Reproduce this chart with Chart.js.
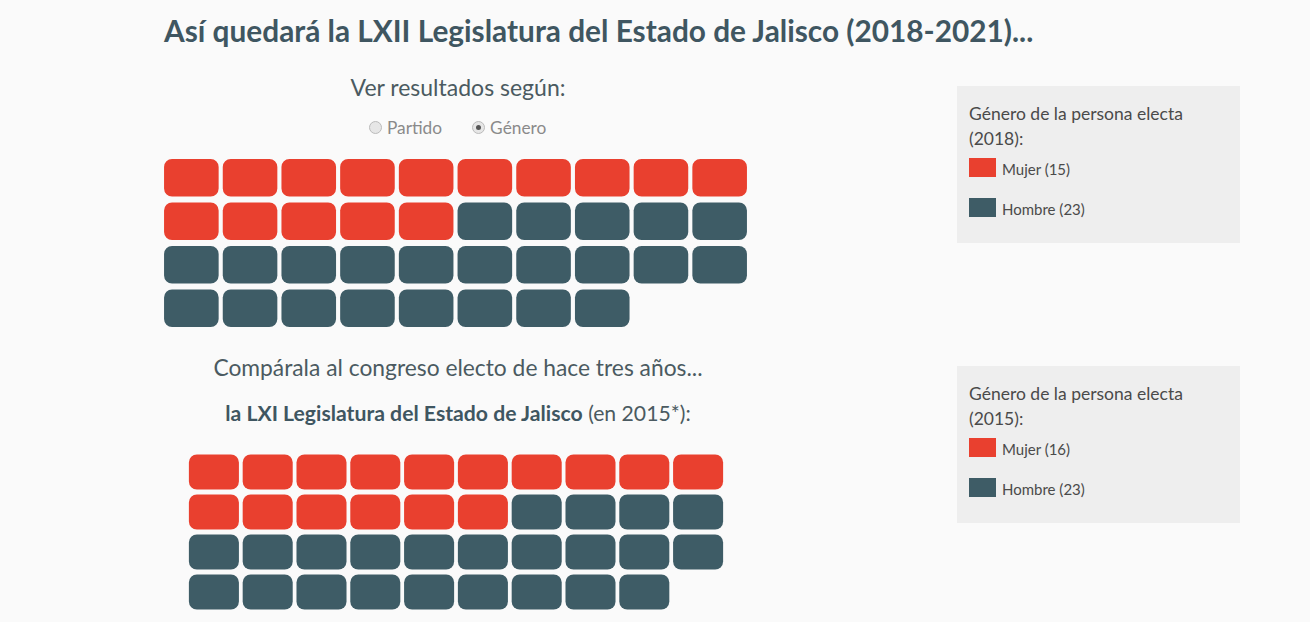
<!DOCTYPE html>
<html lang="es">
<head>
<meta charset="utf-8">
<script src="https://cdn.jsdelivr.net/npm/chart.js@4"></script>
<style>
  html, body { margin: 0; padding: 0; }
  body { width: 1310px; height: 622px; background: #fafafa; font-family: Lato, "Open Sans", sans-serif; position: relative; overflow: hidden; color: #4b5a61; }
  .abs { position: absolute; white-space: nowrap; }
  #title { left: 164px; top: 13px; font-size: 29.8px; font-weight: bold; color: #3f5661; letter-spacing: 0px; }
  #sub1 { left: 0; width: 916px; text-align: center; top: 73px; font-size: 23px; font-weight: normal; color: #4b5a61; }
  #radios { left: 369px; top: 117px; font-size: 17.3px; color: #8a8a8a; }
  .radio { display: inline-block; width: 11px; height: 11px; border: 1px solid #bbb; border-radius: 50%; background: #e6e6e6; vertical-align: 0px; margin-right: 5px; position: relative; }
  .radio.on::after { content: ""; position: absolute; left: 3px; top: 3px; width: 5px; height: 5px; border-radius: 50%; background: #555; }
  .sep { display: inline-block; width: 30px; }
  #sub2 { left: 0; width: 916px; text-align: center; top: 353px; font-size: 22.8px; font-weight: normal; color: #4b5a61; }
  #sub3 { left: 0; width: 916px; text-align: center; top: 400px; font-size: 21.2px; color: #4b5a61; }
  #sub3 b { color: #3f5661; }
  .legend { position: absolute; left: 957px; width: 283px; height: 157px; background: #eeeeee; }
  .legend .lt { position: absolute; left: 12px; top: 15px; font-size: 17.5px; line-height: 25px; color: #4a4a4a; white-space: nowrap; }
  .legend .sw { position: absolute; left: 12px; width: 27px; height: 19px; }
  .legend .ll { position: absolute; left: 45px; font-size: 15px; color: #4a4a4a; white-space: nowrap; }
  canvas { position: absolute; }
</style>
</head>
<body>
<div id="title" class="abs">Así quedará la LXII Legislatura del Estado de Jalisco (2018-2021)...</div>
<div id="sub1" class="abs">Ver resultados según:</div>
<div id="radios" class="abs"><span class="radio"></span>Partido<span class="sep"></span><span class="radio on"></span>Género</div>

<canvas id="c2018" width="587" height="174" style="left:162px; top:156px;"></canvas>

<div id="sub2" class="abs">Compárala al congreso electo de hace tres años...</div>
<div id="sub3" class="abs"><b>la LXI Legislatura del Estado de Jalisco</b> (en 2015*):</div>

<canvas id="c2015" width="538" height="160" style="left:187px; top:452px;"></canvas>

<div id="leg2018" class="legend" style="top:86px;"></div>
<div id="leg2015" class="legend" style="top:366px;"></div>

<script>
// ---- Data ----
const generos = ["Mujer", "Hombre"];
const escanos2018 = [15, 23];
const escanos2015 = [16, 23];
const columnas = ["1", "2", "3", "4", "5", "6", "7", "8", "9", "10"];
const anios = ["2018", "2015"];

// ---- Styles ----
const colores = ["#e9402f", "#3e5c66"];

function buildDatasets(counts, gapFrac) {
  const total = counts.reduce((a, b) => a + b, 0);
  const nCols = columnas.length;
  const nRows = Math.ceil(total / nCols);
  const seatGender = [];
  counts.forEach((c, g) => { for (let k = 0; k < c; k++) seatGender.push(g); });
  const datasets = [];
  for (let r = 0; r < nRows; r++) {
    const data = [];
    const bg = [];
    const names = [];
    for (let c = 0; c < nCols; c++) {
      const i = r * nCols + c;
      if (i < total) {
        data.push([r + gapFrac, r + 1 - gapFrac]);
        bg.push(colores[seatGender[i]]);
        names.push(generos[seatGender[i]]);
      } else {
        data.push(null);
        bg.push("rgba(0,0,0,0)");
        names.push("");
      }
    }
    datasets.push({
      label: "Fila " + (r + 1),
      data: data,
      generoNames: names,
      backgroundColor: bg,
      borderWidth: 0,
      borderRadius: 8,
      borderSkipped: false,
      grouped: false,
      barPercentage: 0.93,
      categoryPercentage: 1.0
    });
  }
  return { datasets, nRows };
}

function makeChart(id, counts, gapFrac) {
  const built = buildDatasets(counts, gapFrac);
  return new Chart(document.getElementById(id), {
    type: "bar",
    data: { labels: columnas, datasets: built.datasets },
    options: {
      responsive: false,
      devicePixelRatio: 1,
      animation: false,
      layout: { padding: 0 },
      scales: {
        x: { type: "category", display: false, offset: true, grid: { display: false } },
        y: { type: "linear", display: false, min: 0, max: built.nRows, reverse: true }
      },
      plugins: {
        legend: { display: false },
        tooltip: {
          callbacks: {
            title: () => "",
            label: (ctx) => ctx.dataset.generoNames[ctx.dataIndex]
          }
        }
      }
    }
  });
}

makeChart("c2018", escanos2018, 0.067);
makeChart("c2015", escanos2015, 0.0625);

function buildLegend(id, anio, counts) {
  const el = document.getElementById(id);
  let html = '<div class="lt">Género de la persona electa<br>(' + anio + '):</div>';
  generos.forEach((g, i) => {
    const top = 72 + i * 40;
    html += '<div class="sw" style="top:' + top + 'px;background:' + colores[i] + '"></div>';
    html += '<div class="ll" style="top:' + (top + 2) + 'px">' + g + ' (' + counts[i] + ')</div>';
  });
  el.innerHTML = html;
}
buildLegend("leg2018", anios[0], escanos2018);
buildLegend("leg2015", anios[1], escanos2015);
</script>
</body>
</html>
